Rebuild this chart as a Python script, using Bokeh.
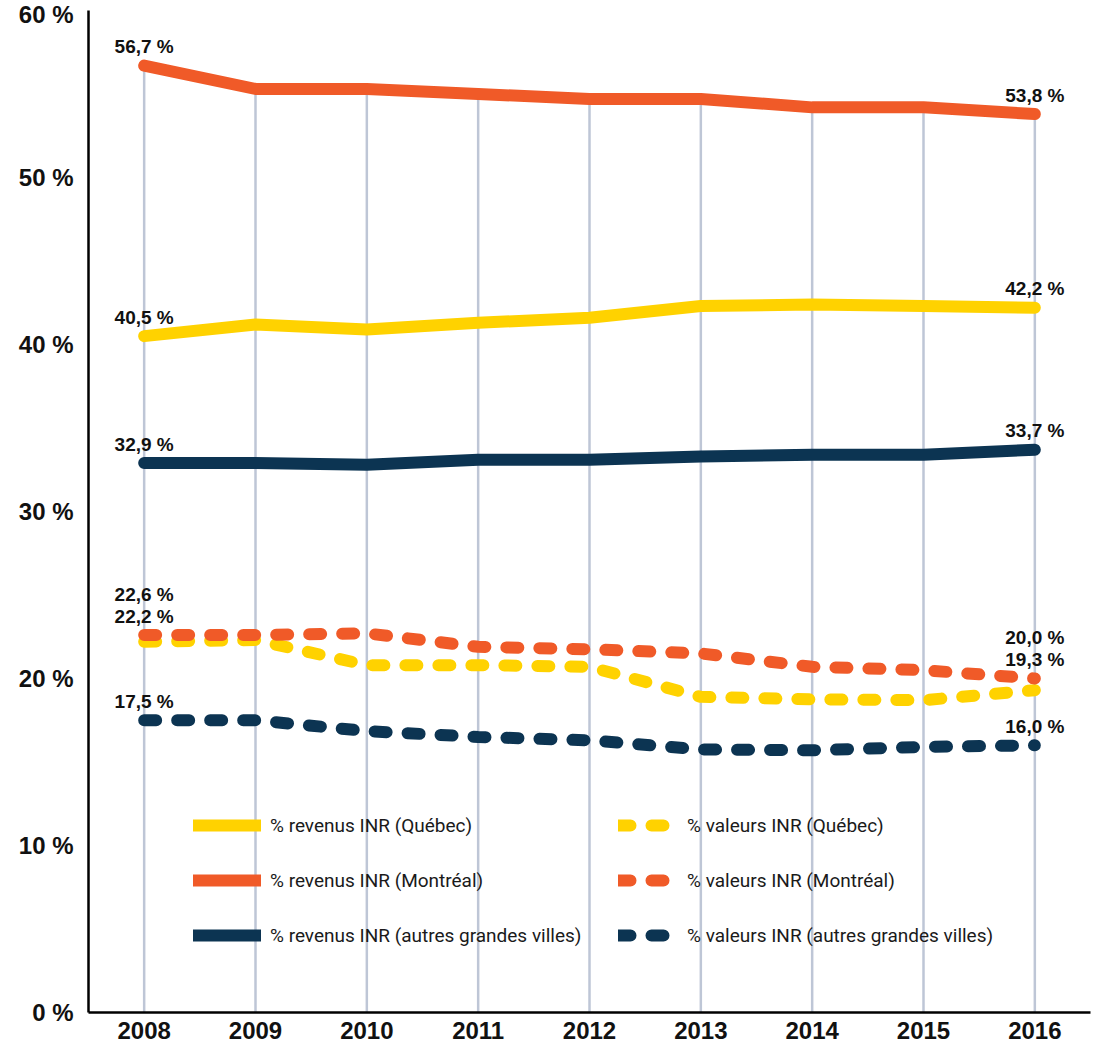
from bokeh.plotting import figure
from bokeh.models import Range1d, FixedTicker, Legend, LegendItem, ColumnDataSource
from bokeh.core.properties import value
from bokeh.embed import file_html
from bokeh.resources import INLINE

# ---------------- data ----------------
years = [2008, 2009, 2010, 2011, 2012, 2013, 2014, 2015, 2016]
year_labels = ["2008", "2009", "2010", "2011", "2012", "2013", "2014", "2015", "2016"]

revenus_quebec = [40.5, 41.2, 40.9, 41.3, 41.6, 42.3, 42.4, 42.3, 42.2]
revenus_montreal = [56.7, 55.3, 55.3, 55.0, 54.7, 54.7, 54.2, 54.2, 53.8]
revenus_autres = [32.9, 32.9, 32.8, 33.1, 33.1, 33.3, 33.4, 33.4, 33.7]

valeurs_quebec = [22.2, 22.3, 20.8, 20.8, 20.7, 18.9, 18.75, 18.7, 19.3]
valeurs_montreal = [22.6, 22.6, 22.7, 21.9, 21.75, 21.5, 20.7, 20.5, 20.0]
valeurs_autres = [17.5, 17.5, 16.85, 16.5, 16.3, 15.75, 15.7, 15.9, 16.0]

y_ticks = [0, 10, 20, 30, 40, 50, 60]
y_tick_labels = ["0 %", "10 %", "20 %", "30 %", "40 %", "50 %", "60 %"]

legend_solid = ["% revenus INR (Québec)", "% revenus INR (Montréal)",
                "% revenus INR (autres grandes villes)"]
legend_dashed = ["% valeurs INR (Québec)", "% valeurs INR (Montréal)",
                 "% valeurs INR (autres grandes villes)"]

# ---------------- style ----------------
YELLOW = "#FFD200"
ORANGE = "#F05A28"
NAVY = "#0C3452"
GRID = "#BEC6D6"
BOLD_FONT = "Liberation Sans"
LEG_FONT = "Roboto"


def fmt(v):
    return ("%.1f" % v).replace(".", ",") + " %"


p = figure(width=1093, height=1047,
           x_range=Range1d(2007.5, 2016.5), y_range=Range1d(0, 60),
           output_backend="svg", toolbar_location=None,
           min_border_left=88, min_border_right=3,
           min_border_top=10, min_border_bottom=35)
p.outline_line_color = None
p.grid.visible = False
p.background_fill_color = "white"
p.border_fill_color = "white"

# axes
for ax in (p.xaxis[0], p.yaxis[0]):
    ax.axis_line_color = "black"
    ax.axis_line_width = 2.5
    ax.major_tick_line_color = None
    ax.minor_tick_line_color = None
    ax.major_tick_out = 0
    ax.major_tick_in = 0
    ax.major_label_text_font = BOLD_FONT
    ax.major_label_text_font_style = "bold"
    ax.major_label_text_font_size = "24px"
    ax.major_label_text_color = "#111111"

p.xaxis.ticker = FixedTicker(ticks=years)
p.xaxis.major_label_overrides = {y: l for y, l in zip(years, year_labels)}
p.xaxis.major_label_standoff = 9

p.yaxis.ticker = FixedTicker(ticks=y_ticks)
p.yaxis.major_label_overrides = {t: l for t, l in zip(y_ticks, y_tick_labels)}
p.yaxis.major_label_standoff = 15

# vertical guide lines from axis up to the top series
p.segment(x0=years, y0=[0] * len(years), x1=years, y1=revenus_montreal,
          line_color=GRID, line_width=2.5)

common = dict(line_width=12, line_cap="round", line_join="round")
DASH = "12 21"

r_vq = p.line(years, valeurs_quebec, line_color=YELLOW, line_dash=DASH, **common)
r_vm = p.line(years, valeurs_montreal, line_color=ORANGE, line_dash=DASH, **common)
r_va = p.line(years, valeurs_autres, line_color=NAVY, line_dash=DASH, **common)
r_rq = p.line(years, revenus_quebec, line_color=YELLOW, **common)
r_rm = p.line(years, revenus_montreal, line_color=ORANGE, **common)
r_ra = p.line(years, revenus_autres, line_color=NAVY, **common)

# ---------------- value labels at both ends ----------------
lx, ly, lt, loff = [], [], [], []
for i in (0, len(years) - 1):
    for series in (revenus_montreal, revenus_quebec, revenus_autres, valeurs_autres):
        lx.append(years[i]); ly.append(series[i]); lt.append(fmt(series[i])); loff.append(-19)
    anchor = max(valeurs_montreal[i], valeurs_quebec[i])
    lx.append(years[i]); ly.append(anchor); lt.append(fmt(valeurs_quebec[i])); loff.append(-19)
    lx.append(years[i]); ly.append(anchor); lt.append(fmt(valeurs_montreal[i])); loff.append(-41)

src = ColumnDataSource(dict(x=lx, y=ly, t=lt, off=loff))
p.text(x="x", y="y", text="t", y_offset="off", source=src,
       text_align="center", text_baseline="middle",
       text_font=value(BOLD_FONT), text_font_style="bold",
       text_font_size="19px", text_color="#111111")

# ---------------- legends (two columns) ----------------
def make_legend(labels, renderers, x, y, gw, standoff):
    lg = Legend(items=[LegendItem(label=l, renderers=[r]) for l, r in zip(labels, renderers)],
                location=(x, y), orientation="vertical",
                glyph_width=gw, glyph_height=26, label_height=26,
                spacing=29, padding=0, margin=0, label_standoff=standoff,
                border_line_color=None, background_fill_alpha=0,
                label_text_font=LEG_FONT, label_text_font_size="19px",
                label_text_color="#1a1a1a")
    p.add_layout(lg, "center")


make_legend(legend_solid, [r_rq, r_rm, r_ra], 105, 64, 68, 9)
make_legend(legend_dashed, [r_vq, r_vm, r_va], 530, 64, 60, 9)

open("out.html", "w").write(file_html(p, INLINE))
